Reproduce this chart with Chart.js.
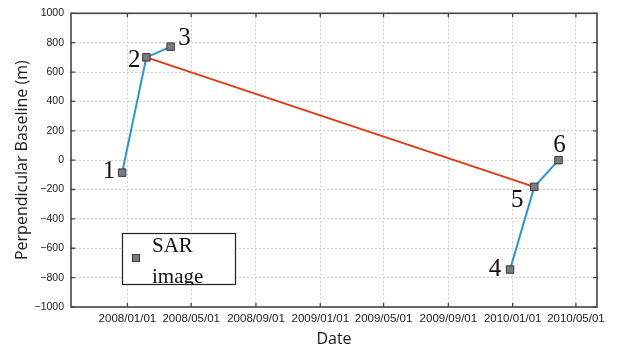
<!DOCTYPE html>
<html><head><meta charset="utf-8">
<script src="https://cdn.jsdelivr.net/npm/chart.js@4/dist/chart.umd.min.js"></script>
<style>html,body{margin:0;padding:0;background:#fff}canvas{display:block}</style>
</head><body>
<canvas id="c" width="617" height="354"></canvas>
<script>
// ---- data ----
const acquisitionDates = ['2007/12/22','2008/02/06','2008/03/23','2009/12/27','2010/02/11','2010/03/29'];
const perpendicularBaselines = [-85, 700, 773, -745, -182, 0];
const imageNumbers = ['1','2','3','4','5','6'];
const blueLinks = [[0,1],[1,2],[3,4],[4,5]];
const redLinks = [[1,4]];
const xTickDates = ['2008/01/01','2008/05/01','2008/09/01','2009/01/01','2009/05/01','2009/09/01','2010/01/01','2010/05/01'];
const xRangeDates = ['2007/09/16','2010/06/10'];
const yTickValues = [-1000,-800,-600,-400,-200,0,200,400,600,800,1000];
const legendLines = ['SAR','image'];
const xTitle = 'Date';
const yTitle = 'Perpendicular Baseline (m)';

// ---- styles ----
const BLUE = '#2b93d1', RED = '#de3a1a', FRAME = '#454545';
const labelOffsets = [[-13,-1],[-12,3],[14,-8],[-15,0],[-17,14],[1,-15]];

function toDay(s){const [y,m,d]=s.split('/').map(Number);return Date.UTC(y,m-1,d)/86400000;}
function fmtDay(v){const dt=new Date(Math.round(v)*86400000);const p=n=>String(n).padStart(2,'0');
  return dt.getUTCFullYear()+'/'+p(dt.getUTCMonth()+1)+'/'+p(dt.getUTCDate());}

const pts = acquisitionDates.map((d,i)=>({x:toDay(d), y:perpendicularBaselines[i]}));
const datasets = [{
  label:'SAR image', data:pts, showLine:false, order:0,
  pointStyle:'rect', pointRadius:5.3, pointBackgroundColor:'#7b7b7b', pointBorderColor:'#3a3a3a', pointBorderWidth:1
}];
blueLinks.forEach(([a,b])=>datasets.push({data:[pts[a],pts[b]],showLine:true,borderColor:BLUE,borderWidth:2,pointRadius:0,order:1}));
redLinks.forEach(([a,b])=>datasets.push({data:[pts[a],pts[b]],showLine:true,borderColor:RED,borderWidth:2,pointRadius:0,order:2}));

const decor = {
  id:'decor',
  afterDatasetsDraw(chart){
    const ctx=chart.ctx, ca=chart.chartArea, xs=chart.scales.x, ys=chart.scales.y;
    ctx.save();
    // frame
    ctx.strokeStyle=FRAME; ctx.lineWidth=1.6; ctx.setLineDash([]);
    ctx.strokeRect(ca.left,ca.top,ca.right-ca.left,ca.bottom-ca.top);
    // inward ticks
    ctx.lineWidth=1.3;
    ctx.beginPath();
    xTickDates.forEach(d=>{const px=xs.getPixelForValue(toDay(d));
      ctx.moveTo(px,ca.bottom);ctx.lineTo(px,ca.bottom-4);ctx.moveTo(px,ca.top);ctx.lineTo(px,ca.top+4);});
    yTickValues.forEach(v=>{const py=ys.getPixelForValue(v);
      ctx.moveTo(ca.left,py);ctx.lineTo(ca.left+4,py);ctx.moveTo(ca.right,py);ctx.lineTo(ca.right-4,py);});
    ctx.stroke();
    // number labels
    const meta=chart.getDatasetMeta(0);
    ctx.fillStyle='#111'; ctx.font='25px "Liberation Serif", "Times New Roman", serif';
    ctx.textAlign='center'; ctx.textBaseline='middle';
    meta.data.forEach((el,i)=>{ctx.fillText(imageNumbers[i], el.x+labelOffsets[i][0], el.y+labelOffsets[i][1]);});
    // legend box
    const bx=122, by=233, bw=113, bh=51;
    ctx.fillStyle='#fff'; ctx.fillRect(bx,by,bw,bh);
    ctx.save(); ctx.beginPath(); ctx.rect(bx,by,bw,bh); ctx.clip();
    ctx.fillStyle='#7b7b7b'; ctx.strokeStyle='#3a3a3a'; ctx.lineWidth=1;
    ctx.fillRect(132.5,254.5,7,7); ctx.strokeRect(132.5,254.5,7,7);
    ctx.fillStyle='#111'; ctx.font='21px "Liberation Serif", "Times New Roman", serif';
    ctx.textAlign='left'; ctx.textBaseline='alphabetic';
    ctx.fillText(legendLines[0],152,252);
    ctx.fillText(legendLines[1],152,283);
    ctx.restore();
    ctx.strokeStyle='#222'; ctx.lineWidth=1.2; ctx.strokeRect(bx+0.5,by+0.5,bw,bh);
    ctx.restore();
  }
};

new Chart(document.getElementById('c'),{
  type:'scatter',
  data:{datasets},
  plugins:[decor],
  options:{
    responsive:false, animation:false, events:[],
    layout:{padding:{top:7,right:20,left:0,bottom:0}},
    plugins:{legend:{display:false},tooltip:{enabled:false}},
    scales:{
      x:{type:'linear', min:toDay(xRangeDates[0]), max:toDay(xRangeDates[1]),
        afterBuildTicks:s=>{s.ticks=xTickDates.map(d=>({value:toDay(d)}));},
        afterFit:s=>{s.height=47;},
        grid:{color:'#d0d0d0',lineWidth:1,drawTicks:false},
        border:{display:false,dash:[2,2]},
        ticks:{callback:v=>fmtDay(v),autoSkip:false,maxRotation:0,padding:5,color:'#1a1a1a',
          font:{family:'"Liberation Sans", Arial, sans-serif',size:11.5}},
        title:{display:true,text:xTitle,color:'#1a1a1a',padding:{top:0,bottom:5},
          font:{family:'"Open Sans", sans-serif',size:16}}
      },
      y:{type:'linear', min:-1000, max:1000,
        afterBuildTicks:s=>{s.ticks=yTickValues.map(v=>({value:v}));},
        afterFit:s=>{s.width=71;},
        grid:{color:'#d0d0d0',lineWidth:1,drawTicks:false},
        border:{display:false,dash:[2,2]},
        ticks:{callback:v=>String(v).replace('-','\u2212'),padding:7,color:'#1a1a1a',
          font:{family:'"Liberation Sans", Arial, sans-serif',size:10.5}},
        title:{display:true,text:yTitle,color:'#1a1a1a',padding:{top:13,bottom:0},
          font:{family:'"Open Sans", sans-serif',size:16}}
      }
    }
  }
});
</script>
</body></html>
